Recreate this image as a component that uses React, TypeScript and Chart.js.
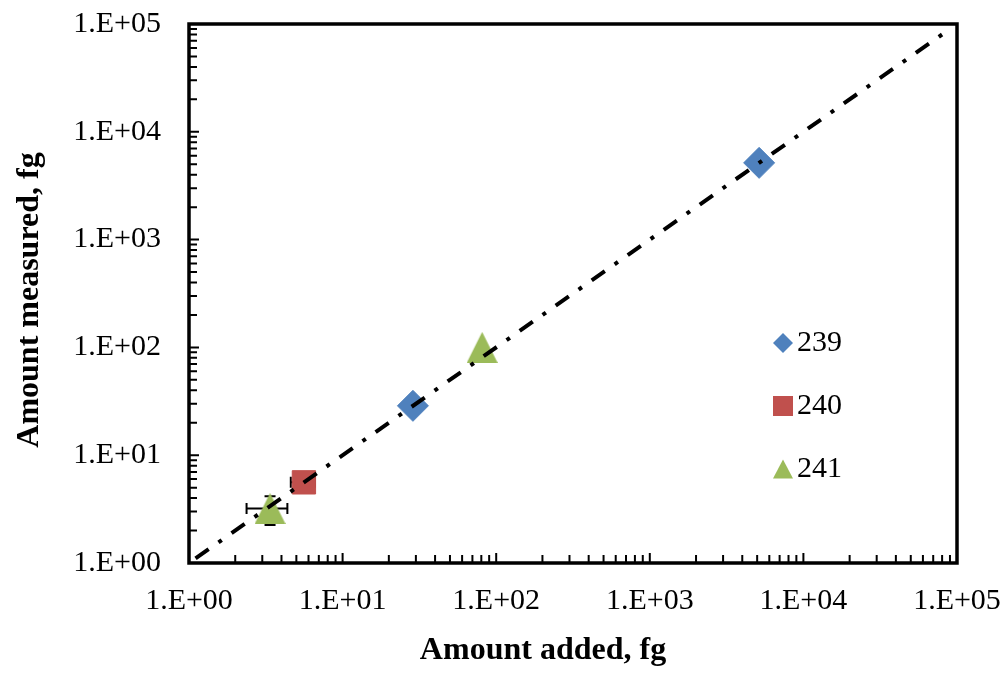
import React, { useEffect, useRef } from 'react';
import { Chart, registerables } from 'chart.js';

Chart.register(...registerables);

// ---- data ----
const xTickLabels = ['1.E+00', '1.E+01', '1.E+02', '1.E+03', '1.E+04', '1.E+05'];
const yTickLabels = ['1.E+00', '1.E+01', '1.E+02', '1.E+03', '1.E+04', '1.E+05'];
const seriesNames = ['239', '240', '241'];
const seriesColors = ['#4F81BD', '#C0504D', '#9BBB59'];

const added239 = [28.7, 5150];
const measured239 = [28.7, 5150];

const added240 = [5.6];
const measured240 = [5.6];
const added240Err = [1.0];
const measured240Err = [0];

const added241 = [3.37, 81];
const measured241 = [3.2, 100];
const added241Err = [1.0, 0];
const measured241Err = [0.95, 0];

const refLineX = [1, 82000];
const refLineY = [1, 82000];

const xTitle = 'Amount added, fg';
const yTitle = 'Amount measured, fg';

const FONT = "'Liberation Serif', 'Times New Roman', serif";

function makeTriangle(w: number, h: number, color: string) {
  const c = document.createElement('canvas');
  c.width = w;
  c.height = h;
  const ctx = c.getContext('2d')!;
  ctx.fillStyle = color;
  ctx.beginPath();
  ctx.moveTo(w / 2, 0);
  ctx.lineTo(w, h);
  ctx.lineTo(0, h);
  ctx.closePath();
  ctx.fill();
  return c;
}

const pts = (xs: number[], ys: number[]) => xs.map((x, i) => ({ x, y: ys[i] }));

function labelFor(labels: string[]) {
  return (v: any) => {
    const e = Math.log10(Number(v));
    const r = Math.round(e);
    return Math.abs(e - r) < 1e-9 && labels[r] !== undefined ? labels[r] : '';
  };
}

const errorBarPlugin = {
  id: 'errorBars',
  beforeDatasetsDraw(chart: any) {
    const { ctx } = chart;
    const xs = chart.scales.x;
    const ys = chart.scales.y;
    const groups = [
      { x: added240, y: measured240, ex: added240Err, ey: measured240Err },
      { x: added241, y: measured241, ex: added241Err, ey: measured241Err },
    ];
    ctx.save();
    ctx.strokeStyle = '#000';
    ctx.lineWidth = 2;
    const cap = 5.5;
    groups.forEach((g) => {
      g.x.forEach((xv, i) => {
        const yv = g.y[i];
        const px = xs.getPixelForValue(xv);
        const py = ys.getPixelForValue(yv);
        if (g.ex[i] > 0) {
          const l = xs.getPixelForValue(xv - g.ex[i]);
          const r = xs.getPixelForValue(xv + g.ex[i]);
          ctx.beginPath();
          ctx.moveTo(l, py); ctx.lineTo(r, py);
          ctx.moveTo(l, py - cap); ctx.lineTo(l, py + cap);
          ctx.moveTo(r, py - cap); ctx.lineTo(r, py + cap);
          ctx.stroke();
        }
        if (g.ey[i] > 0) {
          const t = ys.getPixelForValue(yv + g.ey[i]);
          const b = ys.getPixelForValue(yv - g.ey[i]);
          ctx.beginPath();
          ctx.moveTo(px, t); ctx.lineTo(px, b);
          ctx.moveTo(px - cap, t); ctx.lineTo(px + cap, t);
          ctx.moveTo(px - cap, b); ctx.lineTo(px + cap, b);
          ctx.stroke();
        }
      });
    });
    ctx.restore();
  },
};

const framePlugin = {
  id: 'frame',
  afterDatasetsDraw(chart: any) {
    const { ctx, chartArea } = chart;
    const { left, right, top, bottom } = chartArea;
    const xs = chart.scales.x;
    const ys = chart.scales.y;
    ctx.save();
    ctx.strokeStyle = '#000';
    ctx.lineWidth = 2;
    for (let e = 0; e < 5; e++) {
      for (let k = 1; k <= 9; k++) {
        const v = k * Math.pow(10, e);
        const len = k === 1 ? 10 : 8;
        const px = xs.getPixelForValue(v);
        const py = ys.getPixelForValue(v);
        ctx.beginPath();
        ctx.moveTo(px, bottom);
        ctx.lineTo(px, bottom - len);
        ctx.moveTo(left, py);
        ctx.lineTo(left + len, py);
        ctx.stroke();
      }
    }
    ctx.lineWidth = 3.5;
    ctx.strokeRect(left, top, right - left, bottom - top);
    ctx.restore();
  },
  afterDraw(chart: any) {
    const { ctx } = chart;
    ctx.save();
    // axis titles
    ctx.fillStyle = '#000';
    ctx.font = `bold 32px ${FONT}`;
    ctx.textAlign = 'center';
    ctx.textBaseline = 'alphabetic';
    ctx.fillText(xTitle, 543, 659);
    ctx.translate(38, 300);
    ctx.rotate(-Math.PI / 2);
    ctx.fillText(yTitle, 0, 0);
    ctx.restore();

    // legend
    ctx.save();
    const cx = 783;
    const rows = [343, 406, 469];
    rows.forEach((cy, i) => {
      ctx.fillStyle = seriesColors[i];
      ctx.beginPath();
      if (i === 0) {
        ctx.moveTo(cx, cy - 10);
        ctx.lineTo(cx + 10, cy);
        ctx.lineTo(cx, cy + 10);
        ctx.lineTo(cx - 10, cy);
      } else if (i === 1) {
        ctx.rect(cx - 10, cy - 10, 20, 20);
      } else {
        ctx.moveTo(cx, cy - 9.5);
        ctx.lineTo(cx + 10, cy + 9.5);
        ctx.lineTo(cx - 10, cy + 9.5);
      }
      ctx.closePath();
      ctx.fill();
      ctx.fillStyle = '#000';
      ctx.font = `30px ${FONT}`;
      ctx.textAlign = 'left';
      ctx.textBaseline = 'middle';
      ctx.fillText(seriesNames[i], 797, cy);
    });
    ctx.restore();
  },
};

function zeroPad(s: any) {
  s.paddingTop = 0;
  s.paddingBottom = 0;
  s.paddingLeft = 0;
  s.paddingRight = 0;
}

export default function App() {
  const ref = useRef<HTMLCanvasElement | null>(null);

  useEffect(() => {
    if (!ref.current) return;
    const tri = makeTriangle(31, 31, seriesColors[2]);
    const tickFont = { family: FONT, size: 30 };
    const chart = new Chart(ref.current, {
      type: 'scatter',
      data: {
        datasets: [
          {
            label: 'ref',
            data: pts(refLineX, refLineY),
            showLine: true,
            borderColor: '#000',
            borderWidth: 4,
            borderDash: [16, 12, 4, 12],
            borderDashOffset: 36,
            pointRadius: 0,
            fill: false,
            order: -1,
          } as any,
          {
            label: seriesNames[0],
            data: pts(added239, measured239),
            pointStyle: 'rectRot',
            pointRadius: 15.5,
            backgroundColor: seriesColors[0],
            borderColor: seriesColors[0],
            borderWidth: 1,
          },
          {
            label: seriesNames[1],
            data: pts(added240, measured240),
            pointStyle: 'rect',
            pointRadius: 16.5,
            backgroundColor: seriesColors[1],
            borderColor: seriesColors[1],
            borderWidth: 1,
          },
          {
            label: seriesNames[2],
            data: pts(added241, measured241),
            pointStyle: tri as any,
            pointRadius: 15,
            backgroundColor: seriesColors[2],
            borderColor: seriesColors[2],
          },
        ],
      },
      options: {
        responsive: false,
        animation: false,
        events: [],
        layout: { padding: { top: 24, right: 51, left: 0, bottom: 0 } },
        plugins: { legend: { display: false }, tooltip: { enabled: false } },
        scales: {
          x: {
            type: 'logarithmic',
            min: 1,
            max: 100000,
            grid: { display: false, drawTicks: false },
            border: { display: false },
            ticks: {
              autoSkip: false,
              maxRotation: 0,
              minRotation: 0,
              padding: 20,
              color: '#000',
              font: tickFont,
              callback: labelFor(xTickLabels),
            },
            afterFit: (s: any) => {
              s.height = 110;
              zeroPad(s);
            },
          },
          y: {
            type: 'logarithmic',
            min: 1,
            max: 100000,
            grid: { display: false, drawTicks: false },
            border: { display: false },
            ticks: {
              autoSkip: false,
              padding: 28,
              color: '#000',
              font: tickFont,
              callback: labelFor(yTickLabels),
            },
            afterFit: (s: any) => {
              s.width = 189;
              zeroPad(s);
            },
          },
        },
      } as any,
      plugins: [errorBarPlugin, framePlugin],
    });
    return () => chart.destroy();
  }, []);

  return (
    <div style={{ position: 'absolute', left: 0, top: 0, width: 1008, height: 673, background: '#fff' }}>
      <canvas ref={ref} width={1008} height={673} style={{ display: 'block' }} />
    </div>
  );
}
